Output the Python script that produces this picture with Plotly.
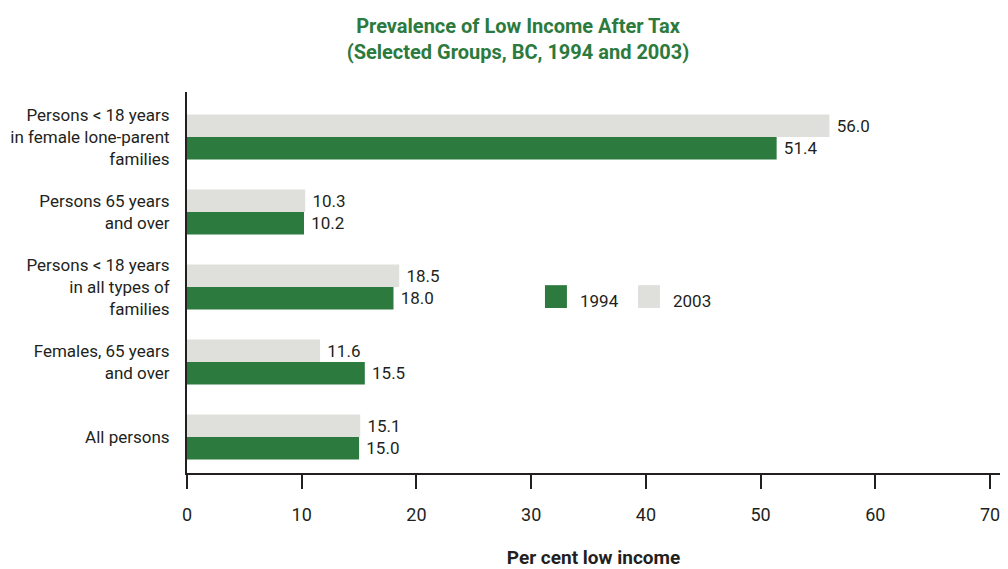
import plotly.graph_objects as go

categories = [
    "Persons < 18 years<br>in female lone-parent<br>families",
    "Persons 65 years<br>and over",
    "Persons < 18 years<br>in all types of<br>families",
    "Females, 65 years<br>and over",
    "All persons",
]
values_1994 = [51.4, 10.2, 18.0, 15.5, 15.0]
values_2003 = [56.0, 10.3, 18.5, 11.6, 15.1]
series_names = ["1994", "2003"]
x_ticks = [0, 10, 20, 30, 40, 50, 60, 70]

GREEN = "#2c7a3d"
GRAY = "#dfe0dc"
TEXT = "#231f20"
FONT = "Roboto, sans-serif"

fig = go.Figure()
fig.add_trace(go.Bar(
    y=categories, x=values_2003, name=series_names[1], orientation="h",
    marker=dict(color=GRAY, line=dict(width=0)),
    text=[f" {v:.1f}" for v in values_2003], textposition="outside",
    textfont=dict(family=FONT, size=17, color=TEXT), cliponaxis=False,
    showlegend=False,
))
fig.add_trace(go.Bar(
    y=categories, x=values_1994, name=series_names[0], orientation="h",
    marker=dict(color=GREEN, line=dict(width=0)),
    text=[f" {v:.1f}" for v in values_1994], textposition="outside",
    textfont=dict(family=FONT, size=17, color=TEXT), cliponaxis=False,
    showlegend=False,
))

# legend drawn manually (larger swatches like the reference)
legend_items = [(series_names[0], GREEN, 0.4403), (series_names[1], GRAY, 0.5547)]
for name, col, px in legend_items:
    fig.add_shape(type="rect", xref="paper", yref="paper",
                  x0=px, x1=px + 0.027, y0=0.433, y1=0.493,
                  fillcolor=col, line=dict(width=0))
    fig.add_annotation(xref="paper", yref="paper", x=px + 0.041, y=0.452,
                       text=name, showarrow=False, xanchor="left", yanchor="middle",
                       font=dict(family=FONT, size=17, color=TEXT))

# page body has an 8px margin, so the figure is shifted by 8px
fig.update_layout(
    width=1000, height=561,
    margin=dict(l=179, r=8, t=84, b=96),
    paper_bgcolor="white", plot_bgcolor="white",
    barmode="group", bargap=0.4, bargroupgap=0,
    title=dict(
        text="<b>Prevalence of Low Income After Tax<br>(Selected Groups, BC, 1994 and 2003)</b>",
        x=0.51, xanchor="center", y=0.956, yanchor="middle",
        font=dict(family=FONT, size=20, color=GREEN),
    ),
    font=dict(family=FONT, size=17, color=TEXT),
    xaxis=dict(
        range=[0, 70.87], tickvals=x_ticks, ticks="outside", ticklen=14,
        tickwidth=2, tickcolor=TEXT, showline=True, linecolor=TEXT, linewidth=2,
        showgrid=False, zeroline=False, tickfont=dict(size=18, color=TEXT),
        ticklabelstandoff=10, automargin=False,
        title=dict(text="<b>Per cent low income</b>", font=dict(size=19, color=TEXT), standoff=32),
    ),
    yaxis=dict(
        range=[4.48, -0.6], showline=True, linecolor=TEXT, linewidth=2,
        showgrid=False, zeroline=False, ticks="", ticklabelstandoff=12,
        tickfont=dict(size=17, color=TEXT), automargin=False,
    ),
)

fig.write_html("out.html")
